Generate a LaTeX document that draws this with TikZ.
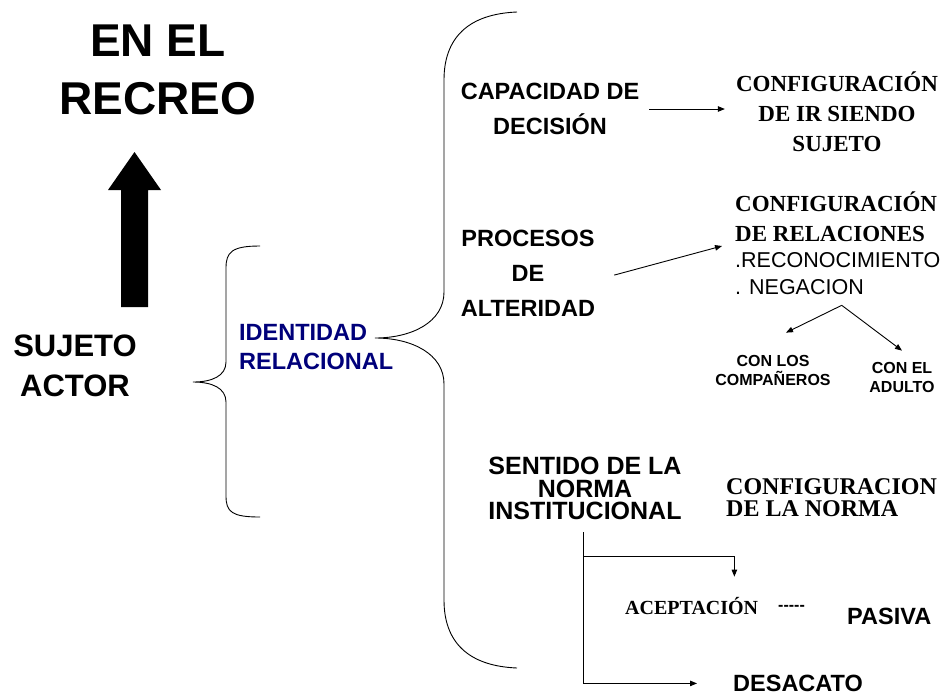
\documentclass[tikz,border=0pt]{standalone}
\usepackage{fontspec}
\setmainfont{Liberation Serif}
\setsansfont{Liberation Sans}
\usetikzlibrary{arrows.meta}
\definecolor{navyid}{RGB}{0,0,122}

\begin{document}
\begin{tikzpicture}[x=1pt,y=-1pt]
	\tikzstyle{every node}=[inner sep=0pt,align=center]
	\tikzstyle{sans}=[font=\sffamily\bfseries\fontsize{23.5}{35}\selectfont]
	\tikzstyle{serif}=[font=\bfseries\fontsize{23}{30}\selectfont]
	\tikzstyle{small}=[font=\sffamily\bfseries\fontsize{16}{19}\selectfont]
	\tikzstyle{arr}=[line width=0.9pt,-{Triangle[length=7pt,width=5.5pt]}]
	\tikzstyle{brace}=[line width=0.9pt]

	\useasboundingbox (0,0) rectangle (947,696);

	% left side
	\node(recreo) at (158,69.5) [font=\sffamily\bfseries\fontsize{46}{58}\selectfont] {EN EL\\RECREO};
	\node(sujeto) at (75,366) [font=\sffamily\bfseries\fontsize{31}{40}\selectfont] {SUJETO\\ACTOR};
	\fill (121,307) -- (121,190) -- (108,190) -- (134.5,152) -- (161,190) -- (148,190) -- (148,307) -- cycle;

	\draw[brace] (260,246) .. controls (232,246) and (226,252) .. (226,268) -- (226,362)
		.. controls (226,376) and (212,382) .. (193,382)
		.. controls (212,382) and (226,388) .. (226,402) -- (226,496)
		.. controls (226,512) and (232,517) .. (260,517);
	\node(identidad) at (239,347) [anchor=west,align=left,text=navyid,font=\sffamily\bfseries\fontsize{23.5}{29}\selectfont] {IDENTIDAD\\RELACIONAL};

	\draw[brace] (517,12) .. controls (468,14) and (444,38) .. (444,80) -- (444,292)
		.. controls (444,322) and (412,338) .. (375,338)
		.. controls (412,338) and (444,354) .. (444,384) -- (444,600)
		.. controls (444,642) and (468,666) .. (517,668);

	% right side
	\node(decision) at (550,109) [sans] {CAPACIDAD DE\\DECISIÓN};
	\node(confsujeto) at (837,111.5) [serif] {CONFIGURACIÓN\\DE IR SIENDO\\SUJETO};
	\draw[arr] ([xshift=10pt]decision.east) -- ([xshift=-11pt]decision.east -| confsujeto.west);

	\node(alteridad) at (528,273.6) [sans] {PROCESOS\\DE\\ALTERIDAD};
	\node(confrel) at (735,216.5) [serif,anchor=west,align=left] {CONFIGURACIÓN\\DE RELACIONES};
	\node(lista) at (735,274) [anchor=west,align=left,font=\sffamily\fontsize{21.5}{27}\selectfont] {.RECONOCIMIENTO\\. NEGACION};
	\draw[arr] ([xshift=19pt,yshift=-1.5pt]alteridad.east) -- ([xshift=-13pt,yshift=-29.5pt]confrel.west);

	\node(companeros) at (773,370) [small] {CON LOS\\COMPAÑEROS};
	\node(adulto) at (902,377) [small] {CON EL\\ADULTO};
	\coordinate(vertice) at ([xshift=4pt,yshift=-10pt]lista.south);
	\draw[arr] (vertice) -- ([xshift=13pt,yshift=22pt]companeros.north);
	\draw[arr] (vertice) -- ([yshift=11pt]adulto.north);

	\node(norma) at (585,488.5) [font=\sffamily\bfseries\fontsize{25}{22.5}\selectfont] {SENTIDO DE LA\\NORMA\\INSTITUCIONAL};
	\node(confnorma) at (726,497.5) [anchor=west,align=left,font=\bfseries\fontsize{24}{22}\selectfont] {CONFIGURACION\\DE LA NORMA};
	\node(aceptacion) at (625,614) [anchor=base west,font=\bfseries\fontsize{20}{24}\selectfont] {ACEPTACIÓN};
	\node(guiones) at (778,610) [anchor=base west,font=\sffamily\bfseries\fontsize{16}{20}\selectfont] {-\kern0pt-\kern0pt-\kern0pt-\kern0pt-};
	\node(pasiva) at (847,624) [anchor=base west,sans] {PASIVA};
	\node(desacato) at (733,691.5) [anchor=base west,sans] {DESACATO};

	\coordinate(tronco) at ([xshift=-2pt,yshift=-12pt]norma.south);
	\draw[arr] (tronco) |- ([xshift=-36pt]desacato.west);
	\draw[arr] ([yshift=-24pt]tronco) -| ([xshift=-24pt,yshift=20pt]aceptacion.north east);
\end{tikzpicture}
\end{document}
